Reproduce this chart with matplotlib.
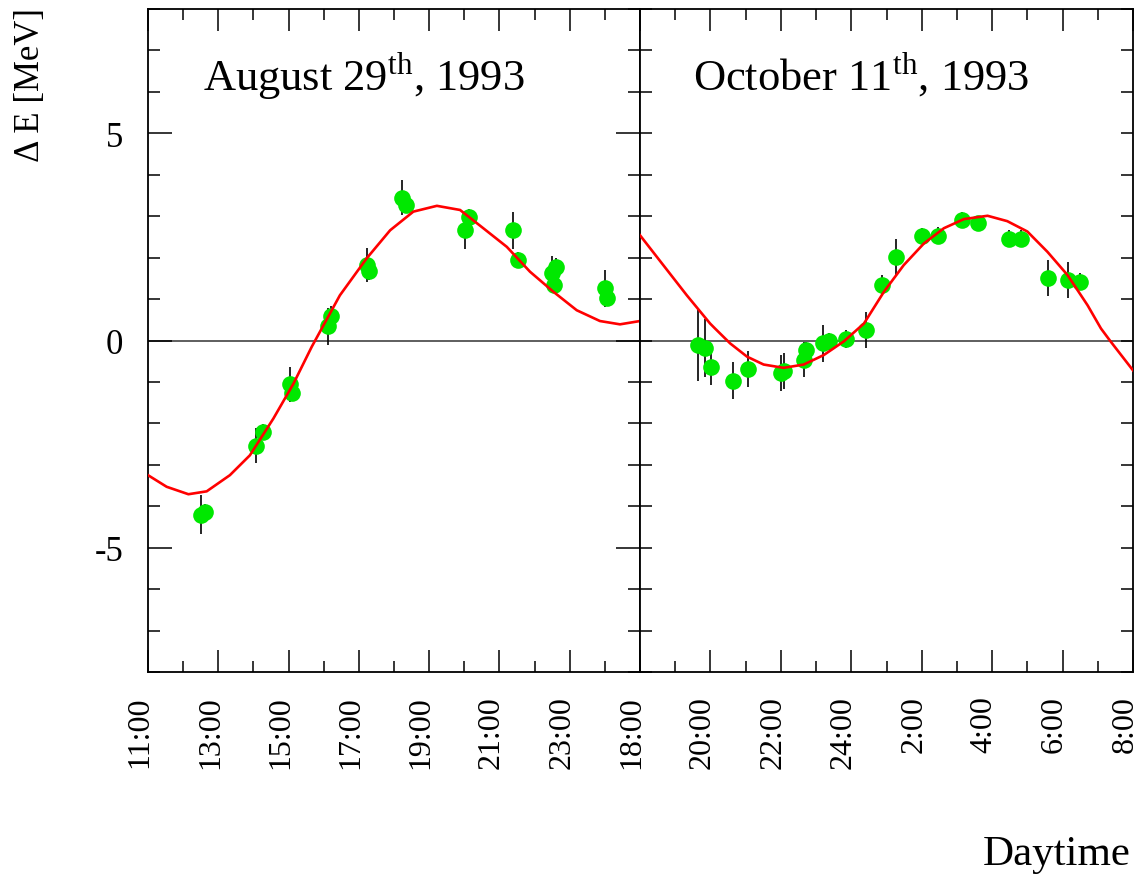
# Variación de energía del haz (dos días), ajuste y puntos medidos.
import matplotlib
matplotlib.use("Agg")
import matplotlib.pyplot as plt
import matplotlib.transforms as mtransforms
from matplotlib.ticker import MultipleLocator, FixedLocator, FixedFormatter

plt.rcParams["font.family"] = ["Liberation Serif", "DejaVu Serif"]
plt.rcParams["mathtext.fontset"] = "custom"
plt.rcParams["mathtext.rm"] = "Liberation Serif"
plt.rcParams["axes.unicode_minus"] = False

# --- 29 agosto 1993 (horas) ---
aug_t = [12.51, 12.62, 14.07, 14.27, 15.04, 15.11, 16.13, 16.20, 17.22, 17.28,
         18.24, 18.35, 20.02, 20.12, 21.40, 21.52, 22.51, 22.56, 22.62, 24.00, 24.07]
aug_v = [-4.20, -4.14, -2.54, -2.21, -1.06, -1.26, 0.34, 0.58, 1.82, 1.67,
         3.45, 3.27, 2.66, 2.97, 2.66, 1.94, 1.62, 1.34, 1.78, 1.26, 1.03]
aug_e = [0.46, 0.20, 0.42, 0.20, 0.43, 0.20, 0.44, 0.25, 0.42, 0.20,
         0.43, 0.20, 0.45, 0.20, 0.44, 0.20, 0.42, 0.20, 0.20, 0.44, 0.20]

aug_fit_t = [11.0, 11.53, 12.15, 12.67, 13.33, 13.9, 14.57, 15.14, 15.66, 16.46,
             17.22, 17.89, 18.55, 19.22, 19.88, 20.54, 21.21, 21.87, 22.53, 23.2,
             23.86, 24.43, 25.0]
aug_fit_v = [-3.25, -3.53, -3.71, -3.64, -3.25, -2.77, -1.88, -1.04, -0.15, 1.09,
             1.98, 2.66, 3.11, 3.25, 3.15, 2.71, 2.26, 1.66, 1.18, 0.73,
             0.47, 0.39, 0.47]

# --- 11 octubre 1993 (horas, >24 = día siguiente) ---
oct_t = [19.66, 19.85, 20.02, 20.64, 21.08, 22.00, 22.10, 22.65, 22.72, 23.20,
         23.36, 23.85, 24.42, 24.88, 25.26, 26.02, 26.45, 27.15, 27.60, 28.48,
         28.83, 29.59, 30.14, 30.49]
oct_v = [-0.10, -0.17, -0.64, -0.97, -0.69, -0.78, -0.73, -0.46, -0.23, -0.07,
         -0.02, 0.04, 0.25, 1.35, 2.02, 2.52, 2.53, 2.91, 2.84, 2.46,
         2.46, 1.51, 1.46, 1.42]
oct_e = [0.87, 0.70, 0.44, 0.45, 0.44, 0.44, 0.44, 0.43, 0.20, 0.44,
         0.20, 0.21, 0.43, 0.22, 0.44, 0.20, 0.20, 0.20, 0.10, 0.20,
         0.20, 0.44, 0.43, 0.20]

oct_fit_t = [18.0, 18.66, 19.33, 19.99, 20.13, 20.56, 21.04, 21.51, 22.08, 22.65,
             23.22, 23.79, 24.36, 24.93, 25.49, 26.06, 26.63, 27.2, 27.87, 28.43,
             29.0, 29.57, 30.14, 30.71, 31.09, 31.37, 32.0]
oct_fit_v = [2.54, 1.82, 1.09, 0.41, 0.29, -0.07, -0.39, -0.58, -0.66, -0.58,
             -0.35, -0.02, 0.41, 1.18, 1.82, 2.34, 2.71, 2.93, 3.01, 2.88,
             2.63, 2.14, 1.58, 0.85, 0.29, -0.03, -0.72]

aug_ticks = [11, 13, 15, 17, 19, 21, 23, 25]
aug_labels = ["11:00", "13:00", "15:00", "17:00", "19:00", "21:00", "23:00", ""]
oct_ticks = [18, 20, 22, 24, 26, 28, 30, 32]
oct_labels = ["18:00", "20:00", "22:00", "24:00", "2:00", "4:00", "6:00", "8:00"]

W, H = 1144, 887
fig = plt.figure(figsize=(W / 100, H / 100), dpi=100)
bottom = 1 - 673 / H
height = (673 - 10) / H
ax1 = fig.add_axes([148 / W, bottom, (640 - 148) / W, height])
ax2 = fig.add_axes([640 / W, bottom, (1133 - 640) / W, height], sharey=ax1)

panels = [
    (ax1, aug_t, aug_v, aug_e, aug_fit_t, aug_fit_v, (11, 25), aug_ticks, aug_labels,
     "August 29$^{\\mathrm{th}}$, 1993", 12.57),
    (ax2, oct_t, oct_v, oct_e, oct_fit_t, oct_fit_v, (18, 32), oct_ticks, oct_labels,
     "October 11$^{\\mathrm{th}}$, 1993", 19.51),
]

shift = mtransforms.ScaledTranslation(-8 / 100, 0, fig.dpi_scale_trans)

for ax, t, v, e, ft, fv, xl, ticks, labels, title, tx in panels:
    ax.axhline(0, color="#333333", lw=1.1, zorder=1)
    ax.errorbar(t, v, yerr=e, fmt="none", ecolor="black", elinewidth=1.2, zorder=2)
    ax.plot(t, v, "o", color="#00e800", markersize=12, markeredgewidth=0, zorder=3)
    ax.plot(ft, fv, color="#ff0000", lw=1.9, zorder=4)
    ax.set_xlim(*xl)
    ax.set_ylim(-8, 8)
    ax.xaxis.set_major_locator(FixedLocator(ticks))
    ax.xaxis.set_major_formatter(FixedFormatter(labels))
    ax.xaxis.set_minor_locator(MultipleLocator(1))
    ax.yaxis.set_major_locator(MultipleLocator(5))
    ax.yaxis.set_minor_locator(MultipleLocator(1))
    ax.tick_params(which="both", direction="in", top=True, right=True, width=1.1)
    ax.tick_params(axis="x", which="major", length=16, pad=17, labelrotation=90,
                   labelsize=23)
    ax.tick_params(axis="x", which="minor", length=8)
    ax.tick_params(axis="y", which="major", length=17, pad=18, labelsize=25)
    ax.tick_params(axis="y", which="minor", length=8.6)
    for lab in ax.get_xticklabels():
        lab.set_transform(lab.get_transform() + shift)
    for s in ax.spines.values():
        s.set_linewidth(1.3)
    ax.text(tx, 6.04, title, fontsize=32, va="baseline", ha="left")

ax2.tick_params(axis="y", which="major", length=8.6, labelleft=False)

fig.text(30 / W, 1 - 8 / H, "Δ E [MeV]", rotation=90, ha="center", va="top", fontsize=25)
fig.text(1131 / W, 1 - 855 / H, "Daytime", ha="right", va="center", fontsize=31)

fig.savefig("out.png", dpi=100)
